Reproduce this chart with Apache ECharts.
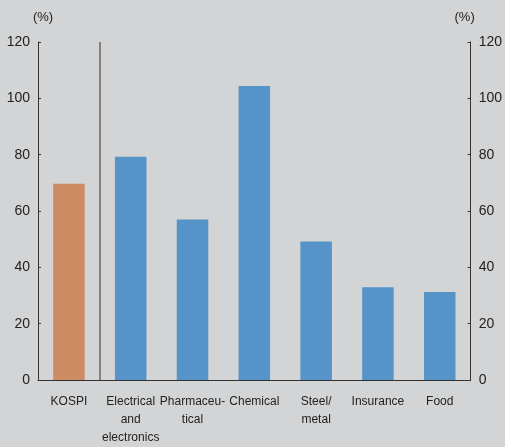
<!DOCTYPE html>
<html><head><meta charset="utf-8">
<script src="https://cdn.jsdelivr.net/npm/echarts@6/dist/echarts.min.js"></script>
<style>html,body{margin:0;padding:0;background:#d3d4d5;}#c{width:505px;height:447px;}</style>
</head><body><div id="c"></div>
<script>
const categories = ["KOSPI", "Electrical\nand\nelectronics", "Pharmaceu-\ntical", "Chemical", "Steel/\nmetal", "Insurance", "Food"];
const values = [69.7, 79.3, 57.0, 104.4, 49.2, 32.9, 31.2];
const yTicks = [0, 20, 40, 60, 80, 100, 120];
const barColors = ["#cd8c63", "#5593c8", "#5593c8", "#5593c8", "#5593c8", "#5593c8", "#5593c8"];
const benchmarkCount = 1; // separator drawn after the benchmark (KOSPI)

const sans = "'Liberation Sans', Arial, sans-serif";
const chart = echarts.init(document.getElementById('c'), null, {renderer: 'canvas'});
const yCommon = {
  type: 'value', min: yTicks[0], max: yTicks[yTicks.length - 1], interval: 20,
  axisLine: {show: true, lineStyle: {color: '#333', width: 1}},
  axisTick: {show: true, inside: true, length: 3, lineStyle: {color: '#333'}},
  splitLine: {show: false},
  axisLabel: {color: '#222', fontSize: 14, fontFamily: sans, margin: 8},
  name: '(%)', nameLocation: 'end', nameGap: 18,
  nameTextStyle: {color: '#222', fontSize: 13, fontFamily: sans, align: 'center'}
};
chart.setOption({
  backgroundColor: '#d3d4d5',
  animation: false,
  grid: {left: 38, right: 33, top: 42, bottom: 66, containLabel: false},
  xAxis: [{
    type: 'category', data: categories,
    axisLine: {show: true, lineStyle: {color: '#333', width: 1}},
    axisTick: {show: false},
    axisLabel: {color: '#222', fontSize: 12, fontFamily: sans, lineHeight: 18, margin: 13, interval: 0},
    splitLine: {show: false}
  }, {
    type: 'value', min: 0, max: categories.length, show: false
  }],
  yAxis: [
    Object.assign({}, yCommon, {position: 'left', nameTextStyle: Object.assign({}, yCommon.nameTextStyle, {padding: [0, 0, 0, 10]})}),
    Object.assign({}, yCommon, {position: 'right', nameTextStyle: Object.assign({}, yCommon.nameTextStyle, {padding: [0, 12, 0, 0]})})
  ],
  series: [{
    type: 'bar', xAxisIndex: 0, yAxisIndex: 0, barWidth: '51%',
    data: values.map((v, i) => ({value: v, itemStyle: {color: barColors[i]}}))
  }, {
    type: 'line', xAxisIndex: 1, yAxisIndex: 0, data: [],
    markLine: {
      silent: true, symbol: 'none', label: {show: false},
      lineStyle: {color: '#666', width: 1.5, type: 'solid'},
      data: [{xAxis: benchmarkCount}]
    }
  }]
});
</script></body></html>
